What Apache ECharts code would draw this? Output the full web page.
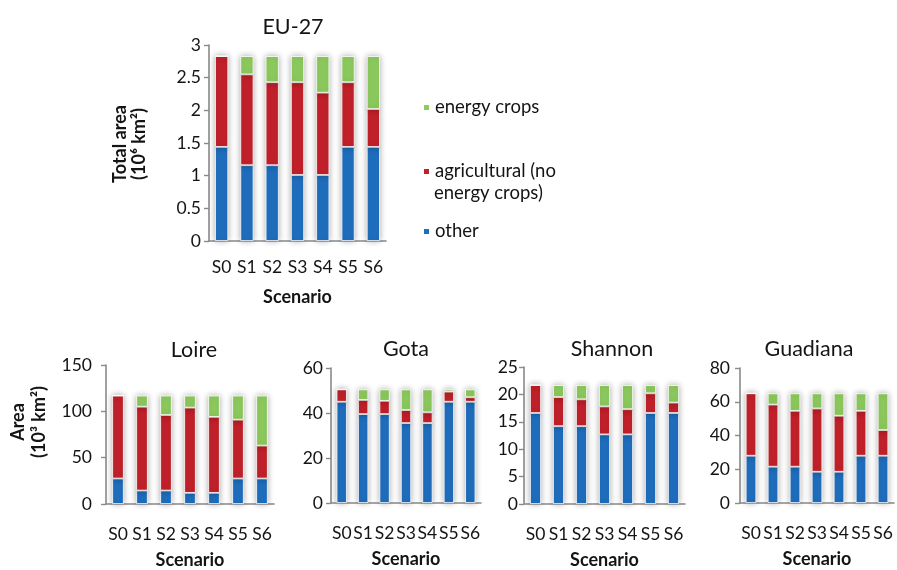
<!DOCTYPE html>
<html>
<head>
<meta charset="utf-8">
<script src="https://cdn.jsdelivr.net/npm/echarts@6/dist/echarts.min.js"></script>
<style>
  html, body { margin: 0; padding: 0; background: #fff; }
  #chart { width: 897px; height: 570px; }
</style>
</head>
<body>
<div id="chart"></div>
<script>
// Land use by scenario: stacked areas per region
const scenarios = ['S0', 'S1', 'S2', 'S3', 'S4', 'S5', 'S6'];
const seriesNames = ['other', 'agricultural (no energy crops)', 'energy crops'];

// EU-27, 10^6 km²
const euOther  = [1.44, 1.16, 1.16, 1.01, 1.01, 1.44, 1.44];
const euAgri   = [1.39, 1.39, 1.27, 1.42, 1.26, 0.99, 0.58];
const euEnergy = [0.00, 0.28, 0.40, 0.40, 0.56, 0.40, 0.81];

// Loire, 10^3 km²
const loireOther  = [27.5, 14.5, 14.5, 12.0, 12.0, 27.5, 27.5];
const loireAgri   = [89.5, 90.5, 81.5, 92.0, 82.0, 63.5, 35.5];
const loireEnergy = [0.0, 12.0, 21.0, 13.0, 23.0, 26.0, 54.0];

// Gota, 10^3 km²
const gotaOther  = [45.0, 39.5, 39.5, 35.5, 35.5, 45.0, 45.0];
const gotaAgri   = [5.5, 6.3, 5.9, 5.8, 4.8, 4.5, 2.0];
const gotaEnergy = [0.0, 4.7, 5.1, 9.2, 10.2, 1.0, 3.5];

// Shannon, 10^3 km²
const shannonOther  = [16.6, 14.2, 14.2, 12.7, 12.7, 16.6, 16.6];
const shannonAgri   = [5.1, 5.3, 4.9, 5.1, 4.6, 3.6, 1.9];
const shannonEnergy = [0.0, 2.2, 2.6, 3.9, 4.4, 1.5, 3.2];

// Guadiana, 10^3 km²
const guadianaOther  = [28.0, 21.5, 21.5, 18.5, 18.5, 28.0, 28.0];
const guadianaAgri   = [37.0, 36.8, 33.1, 37.5, 33.2, 26.6, 15.2];
const guadianaEnergy = [0.0, 6.7, 10.4, 9.0, 13.3, 10.4, 21.8];

// y-axis ranges
const yMax      = [3, 150, 60, 25, 80];
const yInterval = [0.5, 50, 20, 5, 20];
const titles    = ['EU-27', 'Loire', 'Gota', 'Shannon', 'Guadiana'];

const panels = [
  [euOther, euAgri, euEnergy],
  [loireOther, loireAgri, loireEnergy],
  [gotaOther, gotaAgri, gotaEnergy],
  [shannonOther, shannonAgri, shannonEnergy],
  [guadianaOther, guadianaAgri, guadianaEnergy]
];

const FONT = 'Lato, "Liberation Sans", sans-serif';
const TXT = '#141414';
const AXIS = '#8a8a8a';
const colors = ['#1F6FBF', '#C3212A', '#8DCB5E'];

// layout of each panel
const grids = [
  { left: 209, top: 45,  width: 177, height: 196 },
  { left: 106, top: 365, width: 168, height: 140 },
  { left: 331, top: 368, width: 150, height: 135 },
  { left: 524, top: 367, width: 161, height: 137 },
  { left: 740, top: 368, width: 154, height: 135 }
];
const labelMargin = [8, 14, 8, 6, 10];
const titlePos = [[288, 11], [189, 334], [401, 333], [607, 333], [804, 333]];

const xAxes = grids.map((g, i) => ({
  type: 'category',
  gridIndex: i,
  data: scenarios,
  axisLine: { lineStyle: { color: AXIS, width: 1.6 } },
  axisTick: { show: false },
  axisLabel: { interval: 0, margin: i === 0 ? 17 : 21, color: TXT, fontFamily: FONT, fontSize: 17.5 },
  name: 'Scenario',
  nameLocation: 'middle',
  nameGap: i === 0 ? 47 : 47,
  nameTextStyle: { color: TXT, fontFamily: FONT, fontSize: 18, fontWeight: 'bold' }
}));

const yAxes = grids.map((g, i) => ({
  type: 'value',
  gridIndex: i,
  min: 0,
  max: yMax[i],
  interval: yInterval[i],
  splitLine: { show: false },
  axisLine: { show: true, lineStyle: { color: AXIS, width: 1.6 } },
  axisTick: { show: true, length: 5, lineStyle: { color: AXIS, width: 1.4 } },
  axisLabel: { margin: labelMargin[i], color: TXT, fontFamily: FONT, fontSize: 17.5 }
}));

const series = [];
panels.forEach((vals, p) => {
  vals.forEach((arr, k) => {
    series.push({
      type: 'bar',
      name: seriesNames[k],
      xAxisIndex: p,
      yAxisIndex: p,
      stack: 'panel' + p,
      barWidth: p === 0 ? '52%' : '48%',
      data: arr,
      itemStyle: {
        color: colors[k],
        borderColor: '#ffffff',
        borderWidth: 0.8,
        shadowColor: 'rgba(0,0,0,0.32)',
        shadowBlur: 6
      },
      emphasis: { disabled: true }
    });
  });
});

const legendTops = [93, 157, 217];
const legendText = { 'energy crops': 'energy crops', 'agricultural (no energy crops)': 'agricultural (no', 'other': 'other' };
const legends = [seriesNames[2], seriesNames[1], seriesNames[0]].map((n, i) => ({
  data: [n],
  left: 417,
  top: legendTops[i],
  icon: 'rect',
  itemWidth: 7,
  itemHeight: 7,
  itemGap: 0,
  selectedMode: false,
  formatter: nm => legendText[nm],
  textStyle: { color: TXT, fontFamily: FONT, fontSize: 18.5 }
}));

const option = {
  animation: false,
  backgroundColor: '#ffffff',
  color: colors,
  title: titles.map((t, i) => ({
    text: t,
    left: titlePos[i][0],
    top: titlePos[i][1],
    textAlign: 'center',
    textStyle: { color: TXT, fontFamily: FONT, fontSize: 21.5, fontWeight: 'normal' }
  })),
  legend: legends,
  grid: grids.map(g => Object.assign({ containLabel: false }, g)),
  xAxis: xAxes,
  yAxis: yAxes,
  series: series,
  graphic: [
    {
      type: 'text', x: 130, y: 144, rotation: Math.PI / 2,
      style: { text: 'Total area\n(10⁶ km²)', fill: TXT, font: 'bold 18px ' + FONT,
               textAlign: 'center', textVerticalAlign: 'middle', lineHeight: 19 }
    },
    {
      type: 'text', x: 29, y: 422, rotation: Math.PI / 2,
      style: { text: 'Area\n(10³ km²)', fill: TXT, font: 'bold 18px ' + FONT,
               textAlign: 'center', textVerticalAlign: 'middle', lineHeight: 21 }
    },
    {
      type: 'text', x: 434, y: 193,
      style: { text: 'energy crops)', fill: TXT, font: '18.5px ' + FONT,
               textAlign: 'left', textVerticalAlign: 'middle' }
    }
  ]
};

const chart = echarts.init(document.getElementById('chart'), null, { renderer: 'canvas' });
chart.setOption(option);
</script>
</body>
</html>
